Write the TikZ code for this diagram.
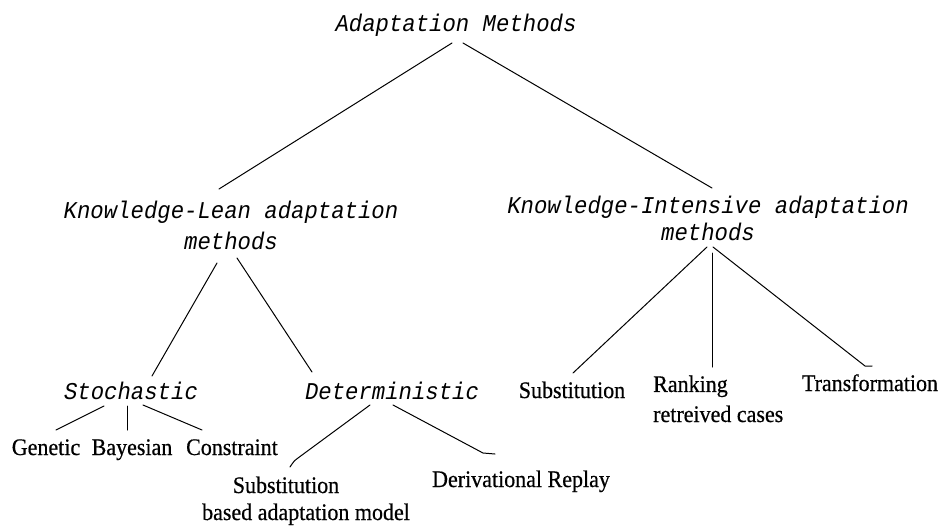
\documentclass[tikz,border=0pt]{standalone}
\usepackage{fontspec}
\setmainfont[FakeBold=0.6]{Liberation Serif}
\newfontfamily\monofam{Liberation Mono}
\usetikzlibrary{calc}

\begin{document}
\begin{tikzpicture}[x=1pt,y=-1pt,
  tallish/.style={yscale=1.08, transform shape},
  mlabel/.style={tallish, font=\monofam\itshape\fontsize{22.3}{27.8}\selectfont, inner sep=0pt, anchor=base, align=center},
  slabel/.style={tallish, font=\fontsize{22}{27.8}\selectfont, inner sep=0pt, anchor=base, align=center},
  edge/.style={line width=1pt, line cap=round, line join=round}]
  \useasboundingbox (0,0) rectangle (943,528);

  % tree labels (multi-line labels are placed by the baseline of their last line)
  \node[mlabel] (am) at (456,31) {Adaptation Methods};
  \node[mlabel] (kl) at (231,249) {Knowledge-Lean adaptation\\methods};
  \node[mlabel, font=\monofam\itshape\fontsize{22.3}{25}\selectfont] (ki) at (708,240) {Knowledge-Intensive adaptation\\methods};
  \node[mlabel] (st) at (131,399) {Stochastic};
  \node[mlabel] (de) at (392,399) {Deterministic};
  \node[slabel] (ge) at (46,455) {Genetic};
  \node[slabel] (ba) at (132,455) {Bayesian};
  \node[slabel] (co) at (232,455) {Constraint};
  \node[slabel, font=\fontsize{22}{25}\selectfont] (sb) at (306,520) {Substitution\hspace*{40pt}\\based adaptation model};
  \node[slabel] (dr) at (521,487) {Derivational Replay};
  \node[slabel] (ss) at (572,398) {Substitution};
  \node[slabel, align=left, anchor=base west] (rk) at (653,422) {Ranking\\retreived cases};
  \node[slabel] (tf) at (870,391) {Transformation};

  % connectors
  \draw[edge] ($(am.base)+(-4,12)$) -- ($(kl.base)+(-12,-60)$);
  \draw[edge] ($(am.base)+(7,12)$) -- ($(ki.base)+(4,-52)$);
  \draw[edge] ($(kl.base)+(-14,14)$) -- ($(st.base)+(21,-23)$);
  \draw[edge] ($(kl.base)+(6,9)$) -- ($(de.base)+(-80,-27)$);
  \draw[edge] ($(ki.base)+(-1,7)$) -- ($(ss.base)+(1,-25)$);
  \draw[edge] ($(ki.base)+(4,13)$) -- ($(rk.base west)+(59,-55)$);
  \draw[edge] ($(ki.base)+(5,7)$) -- ($(tf.base)+(-5,-25)$) -- ($(tf.base)+(2,-25)$);
  \draw[edge] ($(st.base)+(-27,7)$) -- ($(ge.base)+(10,-25)$);
  \draw[edge] ($(st.base)+(-4,7)$) -- ($(ba.base)+(-5,-25)$);
  \draw[edge] ($(st.base)+(12,6)$) -- ($(co.base)+(-30,-25)$);
  \draw[edge] ($(de.base)+(-22,6)$) -- ($(sb.base)+(-8,-62)$)
    .. controls ($(sb.base)+(-12,-59)$) .. ($(sb.base)+(-16,-53)$);
  \draw[edge] ($(de.base)+(1,6)$) -- ($(dr.base)+(-38,-34)$) -- ($(dr.base)+(-26,-33)$);
\end{tikzpicture}
\end{document}
